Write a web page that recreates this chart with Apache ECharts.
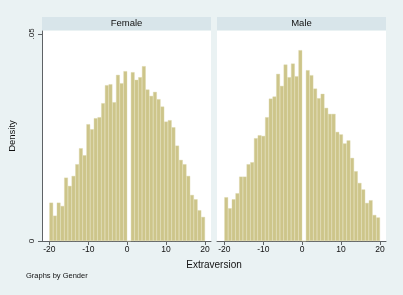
<!DOCTYPE html>
<html>
<head>
<meta charset="utf-8">
<script src="https://cdn.jsdelivr.net/npm/echarts@6/dist/echarts.min.js"></script>
<style>
  html, body { margin: 0; padding: 0; background: #eaf2f3; }
  #main { width: 403px; height: 295px; }
</style>
</head>
<body>
<div id="main"></div>
<script>
// histogram of Extraversion by Gender, 42 equal bins from -20 to 20
const binStart = -20;
const binEnd = 20;
const binCount = 42;
const panelNames = ['Female', 'Male'];
const femaleDensity = [
  0.00925, 0.00611, 0.00925, 0.00845, 0.01529, 0.01329, 0.01570, 0.01853, 0.02239, 0.02070,
  0.02819, 0.02698, 0.02964, 0.02988, 0.03326, 0.03761, 0.03785, 0.03350, 0.04010, 0.03809,
  0.04099, 0,
  0.04075, 0.03889, 0.03954, 0.04220, 0.03655, 0.03502, 0.03599, 0.03423, 0.03244, 0.02882,
  0.02916, 0.02746, 0.02302, 0.01957, 0.01853, 0.01570, 0.01111, 0.01007, 0.00742, 0.00580
];
const maleDensity = [
  0.01056, 0.00790, 0.01007, 0.01152, 0.01553, 0.01553, 0.01853, 0.01901, 0.02481, 0.02553,
  0.02536, 0.02988, 0.03437, 0.03486, 0.04034, 0.03744, 0.04259, 0.03954, 0.04283, 0.03978,
  0.04606, 0,
  0.04123, 0.04003, 0.03679, 0.03447, 0.03551, 0.03213, 0.03068, 0.03068, 0.02633, 0.02573,
  0.02355, 0.02428, 0.02005, 0.01684, 0.01401, 0.01244, 0.00918, 0.00983, 0.00628, 0.00568
];
const xTicks = [-20, -10, 0, 10, 20];
const yTicks = [0, 0.05];

const font = '"Liberation Sans", Arial, sans-serif';
const binWidth = (binEnd - binStart) / binCount;
const xMin = -21.9, xMax = 21.55, yMax = 0.0507;
const plotW = 169, plotH = 210, plotTop = 31;
const panelLeft = [42, 217];
const barPx = binWidth * plotW / (xMax - xMin);

// 把密度值变成 [bin中心, 值]
function toBins(arr) {
  return arr.map((v, i) => [binStart + (i + 0.5) * binWidth, v]);
}

const chart = echarts.init(document.getElementById('main'), null, { renderer: 'canvas' });

const grids = panelLeft.map(l => ({
  left: l, top: plotTop, width: plotW, height: plotH,
  show: true, backgroundColor: '#ffffff', borderWidth: 0
}));

const xAxes = panelLeft.map((l, i) => ({
  gridIndex: i, type: 'value', min: xMin, max: xMax,
  axisLine: { show: true, onZero: false, lineStyle: { color: '#5f6366', width: 1 } },
  axisTick: { show: true, customValues: xTicks, length: 4, lineStyle: { color: '#5f6366' } },
  axisLabel: { show: true, customValues: xTicks, fontSize: 8.5, color: '#111', margin: 4, fontFamily: font },
  splitLine: { show: false }
}));

const yAxes = [
  {
    gridIndex: 0, type: 'value', min: 0, max: yMax,
    name: 'Density', nameLocation: 'middle', nameRotate: 90, nameGap: 25,
    nameTextStyle: { fontSize: 9.5, color: '#111', fontFamily: font },
    axisLine: { show: true, onZero: false, lineStyle: { color: '#5f6366', width: 1 } },
    axisTick: { show: true, customValues: yTicks, length: 4, lineStyle: { color: '#5f6366' } },
    axisLabel: {
      show: true, customValues: yTicks, rotate: 90, fontSize: 8, color: '#111', margin: 6,
      fontFamily: font,
      formatter: v => (v === 0 ? '0' : String(v).replace(/^0/, ''))
    },
    splitLine: { show: false }
  },
  { gridIndex: 1, type: 'value', min: 0, max: yMax, show: false, splitLine: { show: false } }
];

const series = [femaleDensity, maleDensity].map((d, i) => ({
  type: 'bar', xAxisIndex: i, yAxisIndex: i,
  data: toBins(d),
  barWidth: barPx,
  itemStyle: { color: '#cdc58a', borderColor: '#dcd6a8', borderWidth: 0.4 },
  emphasis: { disabled: true },
  silent: true
}));

const graphic = [];
panelLeft.forEach((l, i) => {
  graphic.push({
    type: 'rect', left: l, top: 17,
    shape: { width: plotW, height: 13 },
    style: { fill: '#d8e5ea' }, silent: true
  });
  graphic.push({
    type: 'text', x: l + plotW / 2, y: 23.5,
    style: { text: panelNames[i], fontSize: 9.5, fill: '#111', align: 'center', verticalAlign: 'middle', fontFamily: font }
  });
});
graphic.push({
  type: 'text', x: 214, y: 265,
  style: { text: 'Extraversion', fontSize: 10, fill: '#111', align: 'center', verticalAlign: 'middle', fontFamily: font }
});
graphic.push({
  type: 'text', x: 26, y: 276,
  style: { text: 'Graphs by Gender', fontSize: 7.5, fill: '#111', align: 'left', verticalAlign: 'middle', fontFamily: font }
});

chart.setOption({
  backgroundColor: '#eaf2f3',
  animation: false,
  grid: grids,
  xAxis: xAxes,
  yAxis: yAxes,
  series: series,
  graphic: graphic
});
</script>
</body>
</html>
